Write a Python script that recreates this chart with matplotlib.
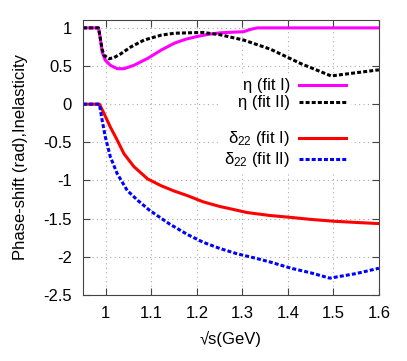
import matplotlib
matplotlib.use("Agg")
import matplotlib.pyplot as plt
from matplotlib.lines import Line2D
from matplotlib.ticker import FuncFormatter, MultipleLocator

plt.rcParams["font.family"] = ["Liberation Sans", "DejaVu Sans"]
plt.rcParams["font.size"] = 12
plt.rcParams["axes.unicode_minus"] = False
plt.rcParams["mathtext.default"] = "regular"

# values
eta1_x = [0.95, 0.984, 0.988, 0.992, 0.999, 1.010, 1.025, 1.040, 1.062, 1.092, 1.122,
          1.151, 1.175, 1.199, 1.225, 1.251, 1.303, 1.318, 1.333, 1.6]
eta1_y = [1.0, 1.0, 0.86, 0.68, 0.575, 0.51, 0.465, 0.465, 0.51, 0.60, 0.71,
          0.80, 0.85, 0.885, 0.915, 0.935, 0.95, 0.98, 1.0, 1.0]

eta2_x = [0.95, 0.984, 0.988, 0.992, 0.996, 1.007, 1.018, 1.033, 1.055, 1.084, 1.122,
          1.151, 1.213, 1.251, 1.303, 1.362, 1.429, 1.495, 1.6]
eta2_y = [1.0, 1.0, 0.86, 0.72, 0.64, 0.595, 0.61, 0.66, 0.75, 0.84, 0.905,
          0.93, 0.94, 0.91, 0.84, 0.72, 0.53, 0.37, 0.45]

d1_x = [0.95, 0.986, 0.996, 1.010, 1.025, 1.040, 1.062, 1.092, 1.122, 1.151, 1.18,
        1.214, 1.25, 1.288, 1.31, 1.362, 1.40, 1.45, 1.503, 1.55, 1.6]
d1_y = [0.0, 0.0, -0.12, -0.30, -0.47, -0.65, -0.82, -0.98, -1.07, -1.14, -1.20,
        -1.28, -1.34, -1.39, -1.42, -1.46, -1.48, -1.51, -1.535, -1.55, -1.565]

d2_x = [0.95, 0.986, 0.992, 0.999, 1.010, 1.025, 1.047, 1.070, 1.096, 1.14, 1.18,
        1.214, 1.25, 1.288, 1.33, 1.362, 1.407, 1.45, 1.492, 1.55, 1.6]
d2_y = [0.0, 0.0, -0.21, -0.43, -0.69, -0.91, -1.13, -1.26, -1.39, -1.57, -1.71,
        -1.81, -1.89, -1.96, -2.02, -2.07, -2.15, -2.21, -2.28, -2.22, -2.15]

fig = plt.figure(figsize=(4.07, 3.61), dpi=100)
ax = fig.add_axes([0.204, 0.183, 0.727, 0.762])

lw = 2.2
dash = (1.3, 0.7)
l1, = ax.plot(eta1_x, eta1_y, color="#ff00ff", lw=lw, label="η (fit I)")
l2, = ax.plot(eta2_x, eta2_y, color="black", lw=lw, dashes=dash, label="η (fit II)")
l3, = ax.plot(d1_x, d1_y, color="#ff0000", lw=lw, label="δ$_{22}$ (fit I)")
l4, = ax.plot(d2_x, d2_y, color="#0000ff", lw=lw, dashes=dash, label="δ$_{22}$ (fit II)")

ax.set_xlim(0.95, 1.6)
ax.set_ylim(-2.5, 1.105)
ax.xaxis.set_major_locator(MultipleLocator(0.1))
ax.yaxis.set_major_locator(MultipleLocator(0.5))
fmt = FuncFormatter(lambda v, p: "%g" % round(v, 3))
ax.xaxis.set_major_formatter(fmt)
ax.yaxis.set_major_formatter(fmt)
ax.tick_params(direction="in", top=True, right=True, length=5, color="#444444",
               labelsize=12, pad=8)
for s in ax.spines.values():
    s.set_color("#444444")
ax.grid(True, color="#aaaaaa", linestyle=(0, (1, 3)), lw=0.8)

ax.set_xlabel("√s(GeV)", fontsize=12, labelpad=7)
ax.set_ylabel("Phase-shift (rad),Inelasticity", fontsize=12, labelpad=11)

blank = Line2D([], [], color="none")
leg = ax.legend([l1, l2, blank, l3, l4],
                [l1.get_label(), l2.get_label(), " ", l3.get_label(), l4.get_label()],
                loc="upper right", bbox_to_anchor=(0.905, 0.805), markerfirst=False,
                handlelength=2.8, handletextpad=0.55, labelspacing=0.12,
                fontsize=12, frameon=True, facecolor="white", edgecolor="none",
                framealpha=1, fancybox=False, borderpad=0.3, borderaxespad=0)
leg.set_zorder(1.8)

fig.savefig("out.png", dpi=100)
